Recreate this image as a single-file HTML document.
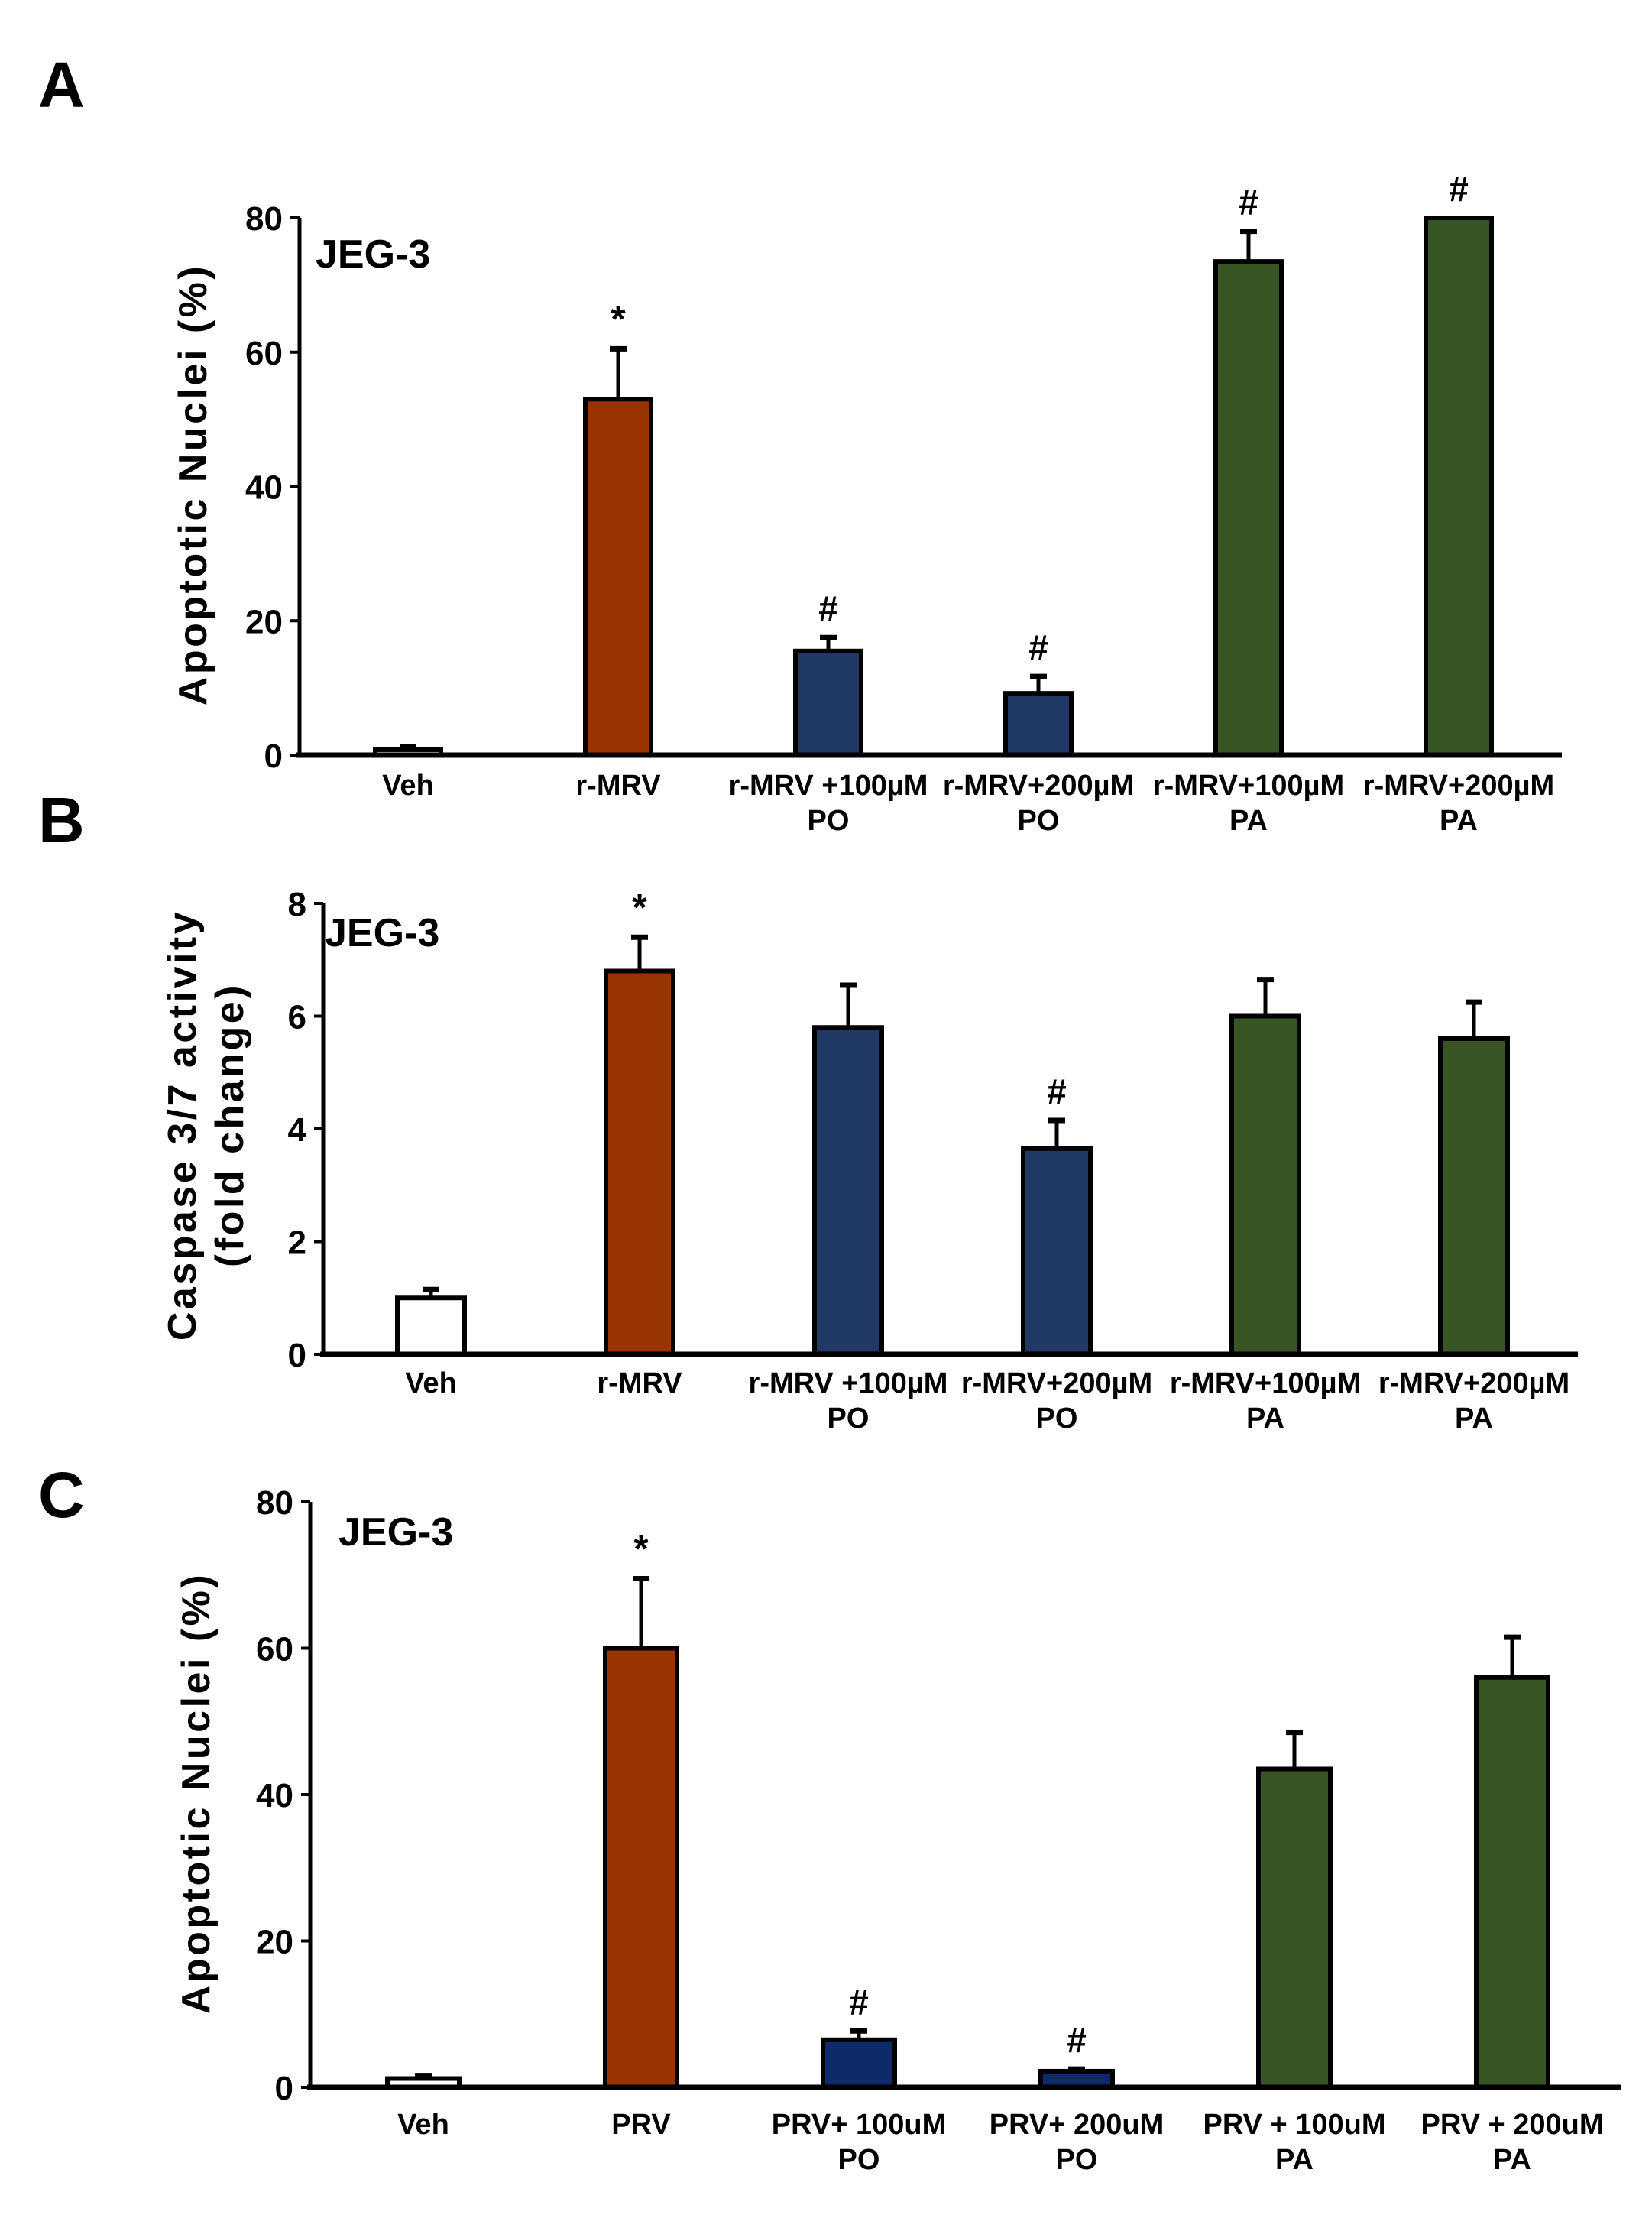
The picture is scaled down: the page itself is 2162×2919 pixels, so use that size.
<!DOCTYPE html>
<html><head><meta charset="utf-8"><style>
body{margin:0;background:#fff}
svg{display:block}
text{font-family:"Liberation Sans",Arial,sans-serif;font-weight:bold;fill:#000}
.n{font-family:"Liberation Sans Narrow","Liberation Sans",sans-serif}
</style></head><body>
<svg id="fig" width="2162" height="2919" viewBox="0 0 2162 2919" xmlns="http://www.w3.org/2000/svg">
<text x="50" y="140" font-size="84">A</text>
<text x="50" y="1102" font-size="84">B</text>
<text x="50" y="1985" font-size="84">C</text>
</svg>
<script>
const catsA=[["Veh",""],["r-MRV",""],["r-MRV +100µM","PO"],["r-MRV+200µM","PO"],["r-MRV+100µM","PA"],["r-MRV+200µM","PA"]];
const valsA=[0.8,53,15.5,9.2,73.5,80];
const errA=[0.5,7.5,2,2.5,4.5,0];
const sigA=["","*","#","#","#","#"];
const ticksA=[0,20,40,60,80];
const catsB=[["Veh",""],["r-MRV",""],["r-MRV +100µM","PO"],["r-MRV+200µM","PO"],["r-MRV+100µM","PA"],["r-MRV+200µM","PA"]];
const valsB=[1.0,6.8,5.8,3.65,6.0,5.6];
const errB=[0.15,0.6,0.75,0.5,0.65,0.65];
const sigB=["","*","","#","",""];
const ticksB=[0,2,4,6,8];
const catsC=[["Veh",""],["PRV",""],["PRV+ 100uM","PO"],["PRV+ 200uM","PO"],["PRV + 100uM","PA"],["PRV + 200uM","PA"]];
const valsC=[1.2,60,6.5,2.2,43.5,56];
const errC=[0.4,9.5,1.2,0.3,5,5.5];
const sigC=["","*","#","#","",""];
const ticksC=[0,20,40,60,80];
const colors=["#ffffff","#993300","#1f3864","#1f3864","#375623","#375623"];
const colorsC=["#ffffff","#993300","#0d2a6b","#0d2a6b","#375623","#375623"];
const NS="http://www.w3.org/2000/svg";
const svg=document.getElementById('fig');
function mk(tag,attrs,parent){const e=document.createElementNS(NS,tag);for(const k in attrs)e.setAttribute(k,attrs[k]);(parent||svg).appendChild(e);return e;}
function panel(p,cats,vals,errs,sigs,ticks,cols,ylab){
  const g=mk('g',{});
  
  
  const ymax=ticks[ticks.length-1];
  const y=v=>p.zero-(v/ymax)*(p.zero-p.top);
  const x=i=>p.c0+i*p.step;
  const ya=mk('line',{x1:p.ax,y1:p.top,x2:p.ax,y2:p.zero,stroke:'#000','stroke-width':5},g);
  
  
  ticks.forEach(t=>{
    mk('line',{x1:p.ax-12,y1:y(t),x2:p.ax,y2:y(t),stroke:'#000','stroke-width':4},g);
    const tl=mk('text',{x:p.ax-22,y:y(t)+16,'font-size':44,'text-anchor':'end',class:'n'},g);
    tl.textContent=t;
    
    
  });
  vals.forEach((v,i)=>{
    const cx=x(i),w=p.bw;
    if(errs[i]>0){
      mk('line',{x1:cx,y1:y(v),x2:cx,y2:y(v+errs[i]),stroke:'#000','stroke-width':5},g);
      mk('line',{x1:cx-11,y1:y(v+errs[i]),x2:cx+11,y2:y(v+errs[i]),stroke:'#000','stroke-width':7},g);
    }
    const b=mk('rect',{x:cx-w/2,y:y(v),width:w,height:p.zero-y(v),fill:cols[i],stroke:'#000','stroke-width':6},g);
    
    
    if(sigs[i]){
      const s=mk('text',{x:cx,y:y(v+errs[i])-22,'font-size':sigs[i]=='*'?50:46,'text-anchor':'middle',class:'n'},g);
      s.textContent=sigs[i];
      
      
    }
    cats[i].forEach((line,j)=>{
      if(!line)return;
      const t=mk('text',{x:cx,y:p.lab+j*46,'font-size':38,'text-anchor':'middle',class:'n'},g);
      t.textContent=line;
      
      
    });
  });
  const xa=mk('line',{x1:p.ax-4,y1:p.zero,x2:p.right,y2:p.zero,stroke:'#000','stroke-width':7},g);
  
  
  const j=mk('text',{x:p.jx,y:p.jy,'font-size':52,class:'n'},g);
  j.textContent='JEG-3';
  
  
  ylab.forEach((l,k)=>{
    const t=mk('text',{x:0,y:0,'font-size':52,'letter-spacing':3.5,'text-anchor':'middle',transform:`translate(${p.ylx+k*62},${p.yly}) rotate(-90)`},g);
    t.textContent=l;
    
    
  });
}
panel({id:'panel-a',ax:392,top:285,zero:988,right:2044,c0:534,step:275,bw:86,lab:1040,jx:413,jy:350,ylx:270,yly:634},catsA,valsA,errA,sigA,ticksA,colors,["Apoptotic Nuclei (%)"]);
panel({id:'panel-b',ax:423,top:1182,zero:1772,right:2065,c0:564,step:273,bw:88,lab:1822,jx:425,jy:1238,ylx:256,yly:1472},catsB,valsB,errB,sigB,ticksB,colors,["Caspase 3/7 activity","(fold change)"]);
panel({id:'panel-c',ax:406,top:1965,zero:2731,right:2121,c0:554,step:285,bw:94,lab:2792,jx:443,jy:2022,ylx:274,yly:2346},catsC,valsC,errC,sigC,ticksC,colorsC,["Apoptotic Nuclei (%)"]);
</script>
</body></html>
